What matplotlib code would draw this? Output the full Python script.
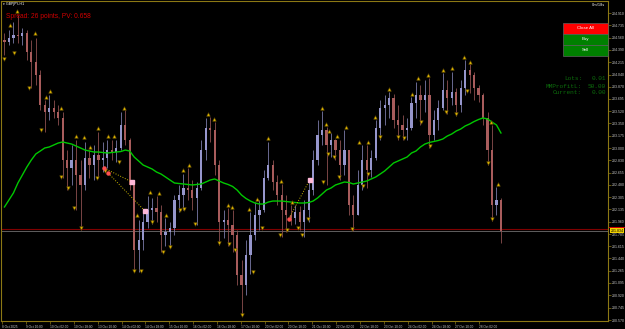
import numpy as np
import matplotlib.pyplot as plt
from matplotlib.patches import Rectangle

W, H = 625, 329

# GBPJPY, one candle every 3 hours starting 8 Oct 18:00 (x axis in hours)
first_open = 204.529
highs = [204.628, 204.670, 204.783, 204.882, 204.698, 204.670, 204.529, 204.557, 204.104, 203.680,
         203.751, 203.680, 203.610, 203.511, 202.973, 203.044, 203.115, 202.832, 203.087, 202.973,
         203.044, 203.228, 203.087, 203.115, 203.115, 203.115, 203.511, 203.539, 203.143, 202.479,
         201.984, 202.125, 202.323, 202.295, 202.323, 202.196, 202.012, 201.956, 202.337, 202.479,
         202.634, 202.719, 202.549, 202.521, 203.115, 203.426, 203.440, 203.369, 202.832, 202.125,
         202.153, 202.125, 201.843, 201.418, 201.701, 202.097, 202.238, 202.267, 202.691, 203.087,
         202.832, 202.620, 202.493, 202.337, 202.196, 202.196, 202.182, 202.267, 202.549, 202.973,
         203.398, 203.525, 203.299, 203.214, 203.129, 203.115, 203.256, 202.973, 202.337, 202.691,
         203.044, 203.044, 202.973, 203.398, 203.680, 203.751, 203.793, 203.765, 203.610, 203.468,
         203.426, 203.723, 203.935, 203.892, 203.963, 203.991, 203.539, 203.680, 204.062, 203.963,
         204.076, 203.850, 203.963, 204.246, 204.189, 204.076, 203.892, 203.779, 203.511, 203.327,
         202.450, 202.295]
lows = [204.316, 204.458, 204.486, 204.486, 204.458, 204.246, 203.850, 203.892, 203.539, 203.228,
        203.398, 203.426, 203.327, 202.578, 202.408, 202.479, 202.125, 201.843, 202.408, 202.578,
        202.549, 202.578, 202.662, 202.719, 202.832, 202.804, 202.973, 203.044, 202.408, 201.249,
        201.249, 201.560, 201.871, 201.927, 201.956, 201.532, 201.616, 201.588, 201.772, 202.097,
        202.125, 202.267, 202.125, 201.913, 202.408, 202.832, 203.087, 202.620, 201.631, 201.729,
        201.616, 201.532, 201.065, 200.627, 200.924, 201.220, 201.701, 201.843, 202.097, 202.549,
        202.408, 202.196, 201.744, 201.814, 201.913, 201.927, 201.843, 201.744, 201.956, 202.337,
        202.761, 203.044, 202.479, 202.874, 202.832, 202.549, 202.620, 202.055, 201.828, 202.055,
        202.408, 202.436, 202.592, 202.832, 203.115, 203.327, 203.426, 203.284, 203.115, 203.115,
        203.115, 203.256, 203.426, 203.327, 203.511, 203.002, 203.115, 203.256, 203.539, 203.482,
        203.610, 203.454, 203.511, 203.751, 203.779, 203.680, 203.652, 203.327, 202.761, 201.970,
        202.055, 201.659]
closes = [204.500, 204.557, 204.599, 204.585, 204.628, 204.359, 204.217, 204.034, 203.610, 203.511,
          203.567, 203.511, 203.426, 202.832, 202.719, 202.832, 202.620, 202.479, 202.860, 202.761,
          202.903, 202.832, 202.860, 202.973, 202.945, 203.002, 203.327, 203.115, 202.479, 201.560,
          201.701, 201.956, 202.125, 202.153, 202.097, 201.772, 201.814, 201.871, 202.267, 202.337,
          202.436, 202.408, 202.295, 202.436, 202.973, 203.284, 203.256, 202.761, 201.956, 201.984,
          201.913, 201.772, 201.206, 201.065, 201.489, 201.772, 202.055, 202.125, 202.578, 202.761,
          202.521, 202.337, 202.125, 202.055, 202.012, 202.097, 201.956, 202.125, 202.408, 202.832,
          203.185, 203.256, 203.044, 203.115, 202.973, 202.761, 202.973, 202.196, 202.055, 202.479,
          202.832, 202.691, 202.860, 203.284, 203.567, 203.610, 203.709, 203.398, 203.327, 203.256,
          203.284, 203.638, 203.751, 203.680, 203.751, 203.185, 203.398, 203.567, 203.822, 203.709,
          203.793, 203.610, 203.850, 204.104, 204.034, 203.850, 203.751, 203.426, 202.973, 202.196,
          202.267, 201.834]
ma_values = [202.168, 202.267, 202.366, 202.507, 202.620, 202.733, 202.832, 202.917, 202.959, 203.002,
             203.016, 203.044, 203.072, 203.087, 203.072, 203.058, 203.030, 203.002, 202.973, 202.959,
             202.945, 202.945, 202.938, 202.931, 202.938, 202.945, 202.952, 202.973, 202.959, 202.874,
             202.818, 202.761, 202.733, 202.705, 202.662, 202.634, 202.592, 202.549, 202.507, 202.500,
             202.493, 202.486, 202.479, 202.486, 202.493, 202.521, 202.549, 202.564, 202.535, 202.507,
             202.486, 202.458, 202.408, 202.337, 202.288, 202.252, 202.224, 202.210, 202.210, 202.238,
             202.252, 202.252, 202.252, 202.245, 202.238, 202.231, 202.224, 202.224, 202.231, 202.252,
             202.295, 202.351, 202.408, 202.436, 202.479, 202.500, 202.521, 202.514, 202.493, 202.507,
             202.521, 202.535, 202.564, 202.592, 202.634, 202.677, 202.733, 202.790, 202.818, 202.846,
             202.874, 202.931, 202.959, 203.016, 203.058, 203.080, 203.094, 203.108, 203.129, 203.171,
             203.200, 203.242, 203.270, 203.313, 203.341, 203.376, 203.405, 203.426, 203.412, 203.369,
             203.327, 203.214]

# fractal arrows (hour, price)
up_frac_hours = [5.4, 10.0, 22.1, 29.5, 32.1, 39.5, 49.5, 54.9, 58.9, 64.3, 71.0, 75.0, 81.7, 90.4,
                 99.1, 105.1, 109.8, 121.2, 125.2, 137.9, 141.9, 151.3, 153.9, 165.3, 170.7, 178.0,
                 186.7, 194.1, 214.2, 216.9, 219.5, 224.2, 230.3, 239.6, 245.0, 249.7, 259.7, 275.1,
                 279.1, 285.8, 295.9, 301.9, 309.9, 313.9, 328.0, 332.7]
up_frac_prices = [204.741, 204.938, 204.628, 203.723, 203.808, 203.567, 203.171, 203.157, 203.016,
                  203.284, 203.171, 203.171, 203.567, 202.055, 202.380, 202.366, 202.055, 202.691,
                  202.761, 203.482, 203.412, 202.196, 202.168, 202.139, 202.281, 203.143, 202.535,
                  202.238, 203.567, 203.341, 203.242, 203.171, 203.299, 203.087, 203.087, 203.440,
                  203.836, 203.765, 203.991, 204.034, 204.104, 204.133, 204.288, 204.217, 203.369,
                  202.493]
down_frac_hours = [1.3, 8.0, 18.1, 26.1, 39.5, 44.2, 48.2, 52.9, 63.6, 68.9, 78.3, 88.4, 93.0, 100.4,
                   107.8, 112.4, 119.1, 121.8, 129.2, 145.2, 151.9, 156.0, 160.6, 168.0, 174.0, 186.1,
                   190.8, 198.1, 200.8, 204.8, 214.9, 218.2, 222.2, 226.2, 234.9, 242.3, 245.6, 253.7,
                   265.7, 269.7, 281.1, 287.1, 297.9, 304.6, 311.9, 325.9, 328.6]
down_frac_prices = [204.260, 204.345, 203.850, 203.256, 202.592, 202.436, 202.153, 201.871, 202.578,
                    202.677, 202.804, 201.263, 201.263, 201.956, 201.532, 201.602, 202.125, 202.139,
                    201.927, 201.659, 201.645, 201.560, 200.641, 201.249, 201.871, 201.772, 201.843,
                    201.871, 201.772, 201.998, 202.521, 202.917, 202.874, 202.592, 201.857, 202.465,
                    202.634, 203.157, 203.157, 203.143, 203.369, 203.030, 203.511, 203.482, 203.808,
                    202.790, 201.998]

# closed trades: entry hour, entry price, exit hour, exit price
trades = [(68.3, 202.719, 87.0, 202.521),
          (71.0, 202.648, 95.7, 202.111),
          (192.1, 201.998, 206.2, 202.549)]

bid = 201.834
ask = 201.860

price_ticks = [204.910, 204.735, 204.560, 204.390, 204.215, 204.040, 203.870, 203.695, 203.520,
               203.350, 203.175, 203.000, 202.830, 202.655, 202.480, 202.305, 202.135, 201.960,
               201.785, 201.615, 201.440, 201.265, 201.095, 200.920, 200.745, 200.570]
time_labels = ["8 Oct 2025", "9 Oct 10:00", "10 Oct 02:00", "10 Oct 18:00", "13 Oct 10:00",
               "14 Oct 02:00", "14 Oct 18:00", "15 Oct 10:00", "16 Oct 02:00", "16 Oct 18:00",
               "17 Oct 10:00", "20 Oct 02:00", "20 Oct 18:00", "21 Oct 10:00", "22 Oct 02:00",
               "22 Oct 18:00", "23 Oct 10:00", "24 Oct 02:00", "24 Oct 18:00", "27 Oct 10:00",
               "28 Oct 02:00"]

frame = '#8c7814'
txt = '#c8c8c8'

fig = plt.figure(figsize=(W / 100, H / 100), dpi=100, facecolor='black')
ax = fig.add_axes([1.5 / W, 8 / H, 606.5 / W, 320 / H])
ax.set_facecolor('black')

closes = np.array(closes)
opens = np.r_[first_open, closes[:-1]]
xs = 1.5 + 3 * np.arange(len(closes))
bull = closes >= opens
ax.vlines(xs, lows, highs, colors=np.where(bull, '#7a7aa8', '#8c5050'), lw=0.6, zorder=2)
ax.bar(xs, np.maximum(np.abs(closes - opens), 0.006), bottom=np.minimum(opens, closes), width=1.5,
       color=np.where(bull, '#9696cc', '#a85c5c'), zorder=3)

ax.plot(xs, ma_values, color='#00c800', lw=1.0, zorder=4)

ax.plot(up_frac_hours, up_frac_prices, ls='none', marker='^', ms=2.6, mfc='#d8b000', mec='#5a4600',
        mew=0.4, zorder=5)
ax.plot(down_frac_hours, down_frac_prices, ls='none', marker='v', ms=2.6, mfc='#d8b000', mec='#5a4600',
        mew=0.4, zorder=5)

for h1, p1, h2, p2 in trades:
    ax.plot([h1, h2], [p1, p2], ls=':', color='#c8b400', lw=0.7, zorder=5)
    ax.plot(h1, p1, 'o', ms=2.2, color='#ff5050', zorder=6)
    ax.plot(h2, p2, 's', ms=2.4, color='#ffb8d8', zorder=6)

ax.axhline(ask, color='#800000', lw=0.8, zorder=1)
ax.axhline(bid, color='#6e6e6e', lw=0.6, zorder=1)

ax.set_xlim(-0.5, 406.3)
ax.set_ylim(200.556, 205.080)

for s in ax.spines.values():
    s.set_color(frame)
    s.set_linewidth(0.8)

ax.yaxis.tick_right()
ax.set_yticks(price_ticks)
ax.set_yticklabels([f"{p:.3f}" for p in price_ticks])
ax.set_xticks(np.arange(len(time_labels)) * 16)
ax.set_xticklabels(time_labels)
for lbl in ax.get_xticklabels():
    lbl.set_ha('left')
ax.tick_params(axis='y', length=2, width=0.5, color=frame, labelcolor=txt, labelsize=2.5, pad=1)
ax.tick_params(axis='x', length=2, width=0.5, color=frame, labelcolor=txt, labelsize=2.3, pad=0.8)
for lbl in ax.get_xticklabels() + ax.get_yticklabels():
    lbl.set_family('Liberation Sans')

# ask marker (thin red strip) above the bid price label on the price scale
ytr = ax.get_yaxis_transform()
ax.add_patch(Rectangle((1.002, ask + 0.004), 0.026, 0.026, transform=ytr, facecolor='#d00000',
                       edgecolor='none', clip_on=False, zorder=6))
ax.text(1.004, bid, "201.834", transform=ytr, fontsize=2.5, family='Liberation Sans', color='black',
        va='center', zorder=7, bbox=dict(facecolor='#f0d000', edgecolor='none', pad=0.4))


def fx(x):
    return x / W


def fy(y):
    return 1 - y / H


fig.text(fx(3), fy(4), "\u25be GBPJPY,H1", fontsize=2.5, color='white', va='center')
fig.text(fx(6), fy(16), "Spread: 26 points, PV: 0.658", fontsize=4.8, color='#d00000',
         family='Liberation Sans', va='center')
fig.text(fx(605), fy(5), "0m/18s", fontsize=2.5, color='white', ha='right', va='center')

buttons = [("Close All", '#ff0000', 23), ("Buy", '#008000', 34), ("Sell", '#008000', 45)]
for label, colr, top in buttons:
    fig.add_artist(Rectangle((fx(563), fy(top + 10.5)), 45 / W, 10.5 / H, facecolor=colr,
                             edgecolor='#606060', lw=0.5, transform=fig.transFigure))
    fig.text(fx(585.5), fy(top + 5.3), label, fontsize=3.2, color='white', ha='center', va='center',
             family='Liberation Sans')

info = [("Lots:", "0.01", 78), ("MMProfitL:", "50.00", 86), ("Current:", "0.00", 93)]
for name, val, y in info:
    fig.text(fx(582), fy(y), name, fontsize=4.4, color='#0c6c0c', ha='right', va='center',
             family='Liberation Mono')
    fig.text(fx(606), fy(y), val, fontsize=4.4, color='#0c6c0c', ha='right', va='center',
             family='Liberation Mono')

fig.savefig('out.png', dpi=100, facecolor='black')
